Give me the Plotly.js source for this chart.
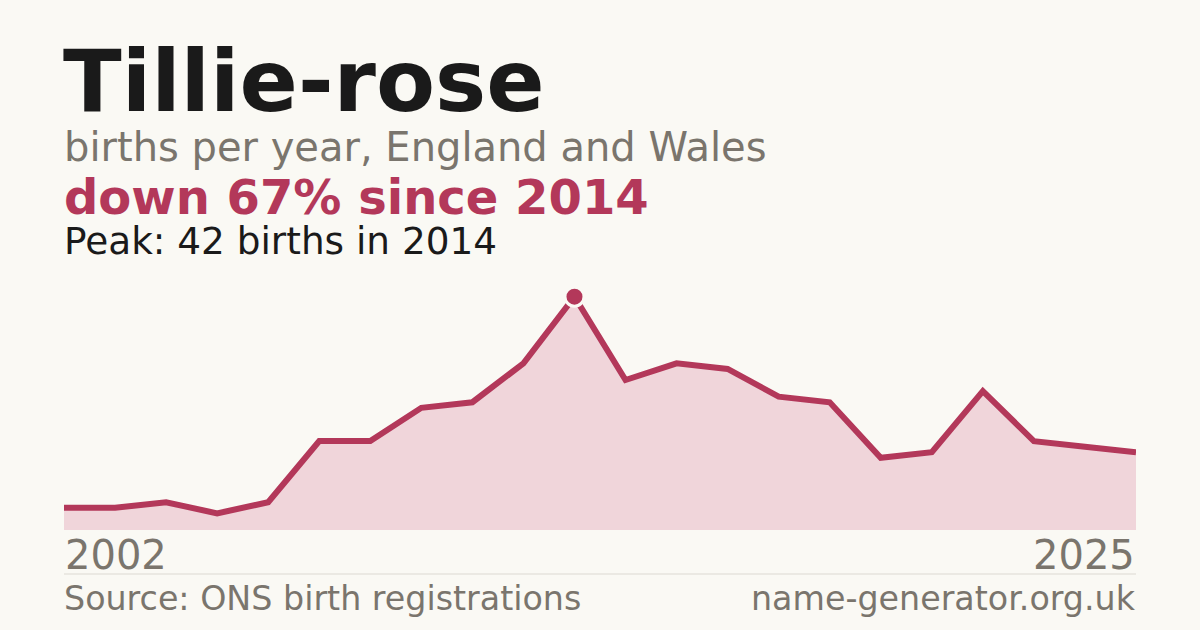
<!DOCTYPE html>
<html>
<head>
<meta charset="utf-8">
<script src="https://cdn.plot.ly/plotly-3.0.1.min.js"></script>
<style>
  html, body { margin: 0; padding: 0; background: #faf9f4; }
  #chart { width: 1200px; height: 630px; }
</style>
</head>
<body>
<div id="chart"></div>
<script>
// Data
const years = ['2002','2003','2005','2006','2007','2008','2009','2010','2011','2012','2014',
               '2015','2016','2017','2018','2019','2020','2021','2022','2023','2024','2025'];
const births = [4, 4, 5, 3, 5, 16, 16, 22, 23, 30, 42,
                27, 30, 29, 24, 23, 13, 14, 25, 16, 15, 14];
const firstLabel = '2002';
const lastLabel = '2025';
const titleText = 'Tillie-rose';
const subtitleText = 'births per year, England and Wales';
const changeText = 'down 67% since 2014';
const peakText = 'Peak: 42 births in 2014';
const sourceText = 'Source: ONS birth registrations';
const siteText = 'name-generator.org.uk';

const W = 1200, H = 630;
const py = v => 1 - v / H;
const px = v => v / W;

const RED = '#b3385a';
const GREY = '#7a756d';
const INK = '#1a1a1a';
const FONT = 'DejaVu Sans, sans-serif';

let peakIdx = 0;
births.forEach((b, i) => { if (b > births[peakIdx]) peakIdx = i; });

const traces = [
  {
    x: years, y: births, type: 'scatter', mode: 'lines',
    line: { color: RED, width: 6, shape: 'linear' },
    fill: 'tozeroy', fillcolor: '#f0d5da',
    hoverinfo: 'skip', cliponaxis: false
  },
  {
    x: [years[peakIdx]], y: [births[peakIdx]], type: 'scatter', mode: 'markers',
    marker: { color: RED, size: 19, line: { color: '#faf9f4', width: 3 } },
    hoverinfo: 'skip', cliponaxis: false
  }
];

function ann(text, x, yBottom, size, color, bold, xanchor, xref) {
  return {
    text: bold ? '<b>' + text + '</b>' : text,
    x: x, xref: xref || 'paper', xanchor: xanchor || 'left',
    y: py(yBottom), yref: 'paper', yanchor: 'bottom',
    showarrow: false, borderpad: 0,
    font: { family: FONT, size: size, color: color }
  };
}

const layout = {
  width: W, height: H,
  margin: { l: 0, r: 0, t: 0, b: 0 },
  paper_bgcolor: '#faf9f4', plot_bgcolor: 'rgba(0,0,0,0)',
  showlegend: false,
  xaxis: {
    type: 'category', domain: [px(64), px(1136)],
    range: [0, years.length - 1],
    showgrid: false, zeroline: false, showline: false, showticklabels: false, ticks: ''
  },
  yaxis: {
    domain: [py(530), py(296.7)], range: [0, 42],
    showgrid: false, zeroline: false, showline: false, showticklabels: false, ticks: ''
  },
  shapes: [
    { type: 'line', xref: 'paper', yref: 'paper', x0: px(64), x1: px(1136), y0: py(574), y1: py(574),
      line: { color: '#dcd9d2', width: 1 } }
  ],
  annotations: [
    ann(titleText, px(62), 132, 86, INK, true),
    ann(subtitleText, px(63), 171, 40, GREY, false),
    ann(changeText, px(63), 226, 48, RED, true),
    ann(peakText, px(63), 264, 37.4, INK, false),
    ann(firstLabel, years.indexOf(firstLabel), 579, 40, GREY, false, 'left', 'x'),
    ann(lastLabel, years.indexOf(lastLabel), 579, 40, GREY, false, 'right', 'x'),
    ann(sourceText, px(63), 619, 33.3, GREY, false),
    ann(siteText, px(1137), 619, 33.3, GREY, false, 'right')
  ]
};

Plotly.newPlot('chart', traces, layout, { staticPlot: true, displayModeBar: false });
</script>
</body>
</html>
